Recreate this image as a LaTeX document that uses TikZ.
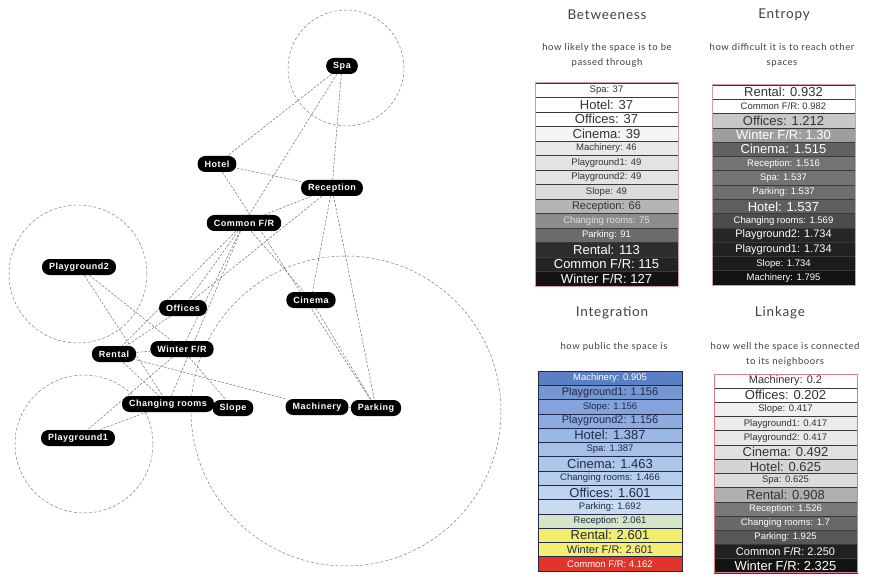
\documentclass[tikz,border=0pt]{standalone}
\usepackage{fontspec}
\setmainfont{Liberation Sans}
\newfontfamily\titlefont[LetterSpace=6]{Lato}
\newfontfamily\nodefont[LetterSpace=6]{Liberation Sans}
\newcommand\fS{\fontsize{9.5}{10}\selectfont}
\newcommand\fM{\fontsize{11}{12}\selectfont}
\newcommand\fL{\fontsize{13}{14}\selectfont}
\definecolor{txt}{HTML}{333333}
\definecolor{rowline}{HTML}{3A3A3A}
\definecolor{pinkA}{HTML}{D89AA6}
\definecolor{intx}{HTML}{1F2A4A}
\definecolor{iA}{HTML}{5A7FC4}
\definecolor{iB}{HTML}{7697D2}
\definecolor{iC}{HTML}{84A3DA}
\definecolor{iD}{HTML}{8EACDF}
\definecolor{iE}{HTML}{9CB8E4}
\definecolor{iF}{HTML}{A6C0E8}
\definecolor{iG}{HTML}{AEC6EA}
\definecolor{iH}{HTML}{B6CDEE}
\definecolor{iI}{HTML}{BED3EF}
\definecolor{iJ}{HTML}{C8DBEF}
\definecolor{iK}{HTML}{D6E5C6}
\definecolor{iL}{HTML}{F2EE6C}
\definecolor{iM}{HTML}{F6EE70}
\definecolor{iN}{HTML}{E2352A}
\pgfdeclarelayer{bg}
\pgfdeclarelayer{edges}
\pgfsetlayers{bg,edges,main}
\begin{document}
\begin{tikzpicture}[x=1pt,y=-1pt,
  gnode/.style={fill=black, text=white, font=\nodefont\bfseries\fontsize{9}{10}\selectfont, rounded corners=7.5pt, inner xsep=7pt, inner ysep=0pt, minimum height=16pt},
  edge/.style={draw=black!55, dash pattern=on 2.5pt off 1.5pt, line width=0.5pt},
  ring/.style={draw=black!50, dash pattern=on 3pt off 2pt, line width=0.5pt},
  rowcell/.style={draw=rowline, line width=0.7pt, inner sep=0pt, outer sep=0pt},
  ttl/.style={font=\titlefont\fontsize{13.5}{15}\selectfont, text=black!75},
  sub/.style={font=\titlefont\fontsize{9.5}{15}\selectfont, text=black!75, align=center},
  border/.style={draw=pinkA, line width=1pt}
]
\begin{pgfonlayer}{bg}
\fill[white] (0,0) rectangle (871,575);
\end{pgfonlayer}
\useasboundingbox (0,0) rectangle (871,575);

% graph nodes
\node[gnode] (spa) at (342,66) {Spa};
\node[gnode] (hotel) at (217,164) {Hotel};
\node[gnode] (rec) at (332,188) {Reception};
\node[gnode] (cfr) at (244,223) {Common F/R};
\node[gnode] (pg2) at (79,267) {Playground2};
\node[gnode] (off) at (183,308) {Offices};
\node[gnode] (cin) at (311,300) {Cinema};
\node[gnode] (ren) at (114,354) {Rental};
\node[gnode] (wfr) at (182,349) {Winter F/R};
\node[gnode] (chg) at (168,404) {Changing rooms};
\node[gnode] (slo) at (233,408) {Slope};
\node[gnode] (mac) at (317,407) {Machinery};
\node[gnode] (par) at (376,408) {Parking};
\node[gnode] (pg1) at (78,438) {Playground1};

\begin{pgfonlayer}{edges}
\draw[ring] (346,68) circle[radius=58pt];
\draw[ring] (78,274) circle[radius=69pt];
\draw[ring] (84,444) circle[radius=69pt];
\draw[ring] (346,411) circle[radius=155pt];
\foreach \a/\b in {spa/hotel, spa/cfr, spa/rec, hotel/rec, hotel/par, rec/cfr, rec/off, rec/cin, rec/par, cfr/cin, cfr/off, cfr/wfr, cfr/ren, cfr/chg, cin/par, pg2/wfr, pg2/chg, ren/wfr, ren/mac, ren/chg, wfr/slo, wfr/pg1, pg1/chg, off/ren, mac/par}
  \draw[edge] (\a) -- (\b);
\end{pgfonlayer}

% titles
\node[ttl] (tb) at (607,15) {Betweeness};
\node[sub] (sb) at (607,55.5) {how likely the space is to be\\passed through};
\node[ttl] (te) at (784,15) {Entropy};
\node[sub] (se) at (782,55.5) {how difficult it is to reach other\\spaces};
\node[ttl] (ti) at (612,313) {Integration};
\node[sub] (si) at (614,347) {how public the space is};
\node[ttl] (tl) at (780,313) {Linkage};
\node[sub] (sl) at (785,354.5) {how well the space is connected\\to its neighboors};

% Betweeness
\foreach \t/\f/\c/\s [count=\i from 0] in {
 {Spa: 37}/white/txt/S, {Hotel: 37}/white/txt/L, {Offices: 37}/white/txt/L, {Cinema: 39}/black!4/txt/L,
 {Machinery: 46}/black!9/txt/S, {Playground1: 49}/black!11/txt/S, {Playground2: 49}/black!11/txt/S,
 {Slope: 49}/black!14/txt/S, {Reception: 66}/black!29/txt/M, {Changing rooms: 75}/black!45/black!12/S,
 {Parking: 91}/black!58/white/S, {Rental: 113}/black!82/white/L, {Common F/R: 115}/black!86/white/L,
 {Winter F/R: 127}/black!93/white/L}
 \node[rowcell, fill=\f, text=\c, font=\csname f\s\endcsname, minimum width=143pt, minimum height=14.5pt] (bt\i) at (606.5,{83+(\i+0.5)*14.5}) {\t};
\draw[border] (bt0.north west) rectangle (bt13.south east);

% Entropy
\foreach \t/\f/\c/\s [count=\i from 0] in {
 {Rental: 0.932}/white/txt/L, {Common F/R: 0.982}/white/txt/S, {Offices: 1.212}/black!22/txt/L,
 {Winter F/R: 1.30}/black!38/white/L, {Cinema: 1.515}/black!62/white/L, {Reception: 1.516}/black!55/white/S,
 {Spa: 1.537}/black!55/white/S, {Parking: 1.537}/black!57/white/S, {Hotel: 1.537}/black!63/white/L,
 {Changing rooms: 1.569}/black!70/white/S, {Playground2: 1.734}/black!85/white/M,
 {Playground1: 1.734}/black!87/white/M, {Slope: 1.734}/black!89/white/S, {Machinery: 1.795}/black!93/white/S}
 \node[rowcell, fill=\f, text=\c, font=\csname f\s\endcsname, minimum width=143pt, minimum height=14.286pt] (en\i) at (783.5,{85+(\i+0.5)*14.286}) {\t};
\draw[border] (en0.north west) rectangle (en13.south east);

% Integration
\foreach \t/\f/\c/\s [count=\i from 0] in {
 {Machinery: 0.905}/iA/white/S, {Playground1: 1.156}/iB/intx/M, {Slope: 1.156}/iC/intx/S,
 {Playground2: 1.156}/iD/intx/M, {Hotel: 1.387}/iE/intx/L, {Spa: 1.387}/iF/intx/S,
 {Cinema: 1.463}/iG/intx/L, {Changing rooms: 1.466}/iH/intx/S, {Offices: 1.601}/iI/intx/L,
 {Parking: 1.692}/iJ/intx/S, {Reception: 2.061}/iK/intx/S, {Rental: 2.601}/iL/intx/L,
 {Winter F/R: 2.601}/iM/intx/M, {Common F/R: 4.162}/iN/white/S}
 \node[rowcell, draw=intx, fill=\f, text=\c, font=\csname f\s\endcsname, minimum width=144pt, minimum height=14.286pt] (in\i) at (610,{371+(\i+0.5)*14.286}) {\t};
\draw[line width=1pt, draw=intx] (in0.north west) rectangle (in13.south east);

% Linkage
\foreach \t/\f/\c/\s [count=\i from 0] in {
 {Machinery: 0.2}/white/txt/M, {Offices: 0.202}/white/txt/L, {Slope: 0.417}/black!6/txt/S,
 {Playground1: 0.417}/black!8/txt/S, {Playground2: 0.417}/black!9/txt/S, {Cinema: 0.492}/black!12/txt/L,
 {Hotel: 0.625}/black!17/txt/L, {Spa: 0.625}/black!14/txt/S, {Rental: 0.908}/black!31/txt/L,
 {Reception: 1.526}/black!53/white/S, {Changing rooms: 1.7}/black!59/white/S, {Parking: 1.925}/black!66/white/S,
 {Common F/R: 2.250}/black!87/white/M, {Winter F/R: 2.325}/black!93/white/L}
 \node[rowcell, fill=\f, text=\c, font=\csname f\s\endcsname, minimum width=143pt, minimum height=14.21pt] (lk\i) at (785.5,{374+(\i+0.5)*14.21}) {\t};
\draw[border, draw=pinkA!80!red] (lk0.north west) rectangle (lk13.south east);
\end{tikzpicture}
\end{document}
